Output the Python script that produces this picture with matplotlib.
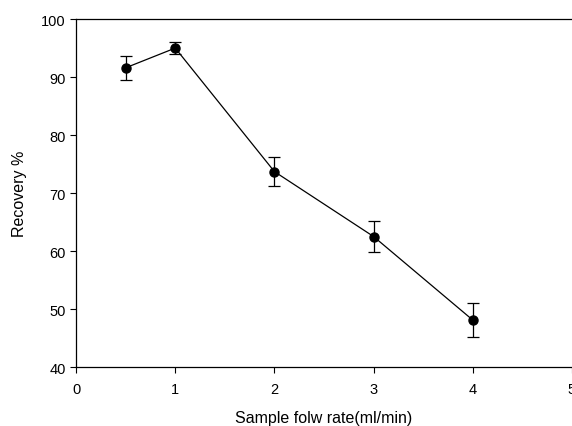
import matplotlib
matplotlib.use("Agg")
import matplotlib.pyplot as plt
import numpy as np

matplotlib.rcParams['font.family'] = 'Liberation Sans'
matplotlib.rcParams['font.size'] = 10

# flow rate (ml/min) vs recovery %
flow_rate = [0.5, 1, 2, 3, 4]
recovery = [91.6, 95.0, 73.7, 62.5, 48.1]
recovery_err = [2.1, 1.0, 2.5, 2.6, 2.9]

x_ticks = [0, 1, 2, 3, 4, 5]
y_ticks = [40, 50, 60, 70, 80, 90, 100]

fig = plt.figure(figsize=(5.72, 4.27), dpi=100)
ax = fig.add_axes([0.133, 0.138, 0.867, 0.815])

ax.errorbar(flow_rate, recovery, yerr=recovery_err,
            fmt='o-', color='black', lw=0.9, ms=6.5,
            ecolor='black', elinewidth=0.9, capsize=4, capthick=0.9)

ax.set_xlim(0, 5)
ax.set_ylim(40, 100)
ax.set_xticks(x_ticks)
ax.set_yticks(y_ticks)
ax.tick_params(direction='out', length=4, width=0.8, labelsize=10.5)
ax.tick_params(axis='x', pad=7)

ax.spines['right'].set_visible(False)
for s in ['left', 'bottom', 'top']:
    ax.spines[s].set_linewidth(0.9)

ax.set_xlabel("Sample folw rate(ml/min)", fontsize=11.5, labelpad=10)
ax.set_ylabel("Recovery %", fontsize=11.5, labelpad=10)

for lbl in ax.get_xticklabels():
    lbl.set_clip_on(False)

fig.savefig("out.png", dpi=100)
